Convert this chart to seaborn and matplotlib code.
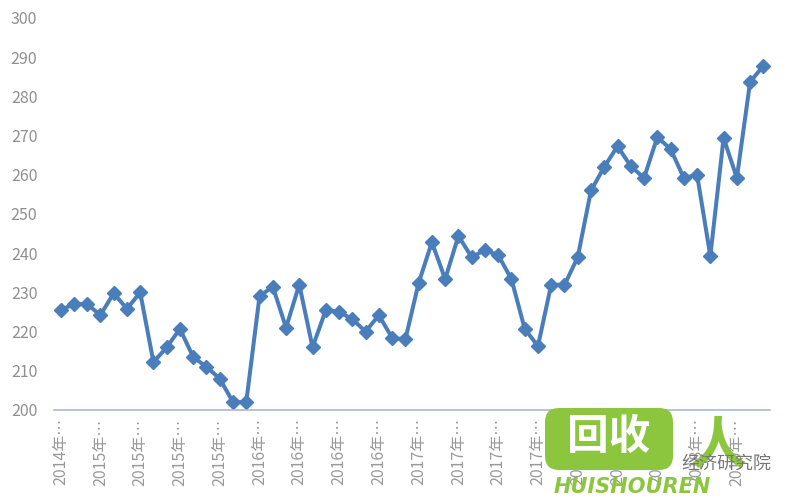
import numpy as np
import pandas as pd
import matplotlib.pyplot as plt
import seaborn as sns
from matplotlib.patches import FancyBboxPatch

# monthly price index, 54 months
prices = [225.5, 227.0, 227.0, 224.2, 229.8, 225.8, 230.0, 212.2, 216.0, 220.7,
          213.5, 211.0, 208.0, 202.0, 202.0, 229.0, 231.5, 221.0, 232.0, 216.0,
          225.5, 225.0, 223.2, 220.0, 224.2, 218.4, 218.0, 232.4, 242.8, 233.4,
          244.4, 239.0, 240.8, 239.5, 233.4, 220.7, 216.3, 232.0, 231.9, 239.0,
          256.0, 262.0, 267.3, 262.2, 259.2, 269.6, 266.6, 259.2, 260.0, 239.3,
          269.4, 259.2, 283.7, 287.8]

# category labels shown every third month (truncated like in the source)
tick_labels = ["2014年…", "2015年…", "2015年…", "2015年…", "2015年…",
               "2016年…", "2016年…", "2016年…", "2016年…",
               "2017年…", "2017年…", "2017年…", "2017年…",
               "2018年…", "2018年…", "2018年…", "2018年…", "2019年…"]
y_ticks = [200, 210, 220, 230, 240, 250, 260, 270, 280, 290, 300]

df = pd.DataFrame({"idx": np.arange(len(prices)), "price": prices})

sns.set_theme(style="white")
plt.rcParams['font.family'] = ['Noto Sans CJK SC', 'DejaVu Sans']

fig = plt.figure(figsize=(8, 5), dpi=100)
ax = fig.add_axes([0.0675, 0.18, 0.895, 0.784])

blue = "#4a7ebb"
sns.lineplot(data=df, x="idx", y="price", ax=ax, color=blue, linewidth=2.9,
             marker="D", markersize=7.5, markeredgecolor=blue, markeredgewidth=1)

ax.set_ylim(200, 300)
ax.set_xlim(-0.5, len(prices) - 0.5)
ax.set_yticks(y_ticks)
ax.set_xticks(np.arange(0, len(prices), 3))
ax.set_xticklabels(tick_labels, rotation=90)
ax.set_xticks(np.arange(-0.5, len(prices), 3), minor=True)
ax.set_xlabel("")
ax.set_ylabel("")

for s in ["left", "right", "top"]:
    ax.spines[s].set_visible(False)
ax.spines["bottom"].set_color("#a9b9d2")
ax.spines["bottom"].set_linewidth(1.2)

grey = "#8f8f8f"
ax.tick_params(axis="y", length=0, labelsize=11.5, labelcolor=grey, pad=12)
ax.tick_params(axis="x", which="major", length=0, labelsize=11.5, labelcolor="#999999", pad=6)
ax.tick_params(axis="x", which="minor", length=5, width=1, color="#a9b9d2", direction="out")

# watermark logo (rough)
green = "#8cc63f"
box = FancyBboxPatch((545, 30), 128, 62, boxstyle="round,pad=0,rounding_size=14",
                     transform=None, facecolor=green, edgecolor="none", zorder=5)
fig.patches.append(box)
fig.text(609 / 800, 1 - 437 / 500, "回收", color="white", fontsize=30, fontweight="bold",
         ha="center", va="center", zorder=6)
fig.text(718 / 800, 1 - 447 / 500, "人", color=green, fontsize=40, fontweight="bold",
         ha="center", va="center", zorder=6)
fig.text(726 / 800, 1 - 464 / 500, "经济研究院", color="#777777", fontsize=13,
         ha="center", va="center", zorder=6)
fig.text(632 / 800, 1 - 487 / 500, "HUISHOUREN", color=green, fontsize=15,
         fontweight="bold", style="italic", ha="center", va="center", zorder=6,
         family="DejaVu Sans")

fig.savefig("out.png", dpi=100)
